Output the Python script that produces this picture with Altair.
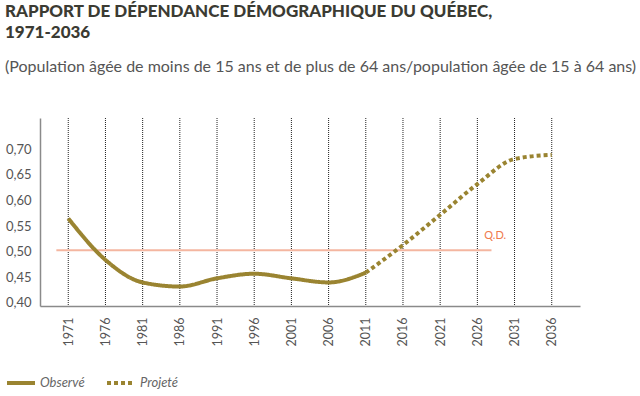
import altair as alt
import pandas as pd

# Rapport de dépendance démographique, observé et projeté
years_obs = [1971, 1976, 1981, 1986, 1991, 1996, 2001, 2006, 2011]
ratio_obs = [0.565, 0.484, 0.440, 0.432, 0.448, 0.457, 0.448, 0.440, 0.459]
years_proj = [2011, 2016, 2021, 2026, 2031, 2036]
ratio_proj = [0.459, 0.513, 0.572, 0.632, 0.681, 0.689]
series_names = ["Observé", "Projeté"]

tick_years = [1971, 1976, 1981, 1986, 1991, 1996, 2001, 2006,
              2011, 2016, 2021, 2026, 2031, 2036]
y_ticks = [0.40, 0.45, 0.50, 0.55, 0.60, 0.65, 0.70]

# Seuil Q.D.
qd_value = 0.503
qd_span = [1969.4, 2027.9]

GOLD = "#9a8431"
GREY = "#555555"
FONT = "Lato"

rows = [{"annee": a, "ratio": r, "serie": series_names[0]} for a, r in zip(years_obs, ratio_obs)]
rows += [{"annee": a, "ratio": r, "serie": series_names[1]} for a, r in zip(years_proj, ratio_proj)]
df = pd.DataFrame(rows)

grid_df = pd.DataFrame({"annee": tick_years, "ratio": [0.761] * len(tick_years)})
qd_df = pd.DataFrame({"annee": [qd_span[0]], "annee2": [qd_span[1]], "ratio": [qd_value]})
qd_label = pd.DataFrame({"annee": [2028.4], "ratio": [0.531], "t": ["Q.D."]})

x_scale = alt.Scale(domain=[1967.2, 2039.8], nice=False, zero=False)
y_scale = alt.Scale(domain=[0.394, 0.761], nice=False, zero=False)

x_axis = alt.Axis(values=tick_years, format="d", labelAngle=270, labelAlign="right",
                  labelBaseline="middle", labelPadding=11, ticks=False, grid=False,
                  domainColor="#8a8a8a", domainWidth=1.5, labelColor=GREY,
                  labelFont=FONT, labelFontSize=12.5, labelOverlap=False, title=None)
y_axis = alt.Axis(values=y_ticks, ticks=False, grid=False, domainColor="#8a8a8a",
                  domainWidth=1.5, labelColor=GREY, labelFont=FONT, labelFontSize=13,
                  labelPadding=9, labelOverlap=False, labelFlush=False,
                  labelExpr="replace(format(datum.value, '.2f'), '.', ',')", title=None)


def X(field="annee"):
    return alt.X(f"{field}:Q", scale=x_scale, axis=x_axis)


def Y(field="ratio"):
    return alt.Y(f"{field}:Q", scale=y_scale, axis=y_axis)


# vertical dotted guides at each tick year, from the top of the plot down to the axis
grid = alt.Chart(grid_df).mark_rule(color="#222222", strokeWidth=1, strokeDash=[1, 1]).encode(
    x=X(),
    y=Y(),
    y2=alt.value(188),
)

qd_rule = alt.Chart(qd_df).mark_rule(color="#f4b6a0", strokeWidth=2).encode(
    x=X(),
    x2="annee2:Q",
    y=Y(),
)

qd_text = alt.Chart(qd_label).mark_text(color="#ef7a4c", font=FONT, fontSize=11).encode(
    x=X(),
    y=Y(),
    text="t:N",
)

lines = alt.Chart(df).mark_line(color=GOLD, strokeWidth=4, interpolate="monotone",
                                strokeCap="butt").encode(
    x=X(),
    y=Y(),
    strokeDash=alt.StrokeDash(
        "serie:N",
        scale=alt.Scale(domain=series_names, range=[[1, 0], [4, 3]]),
        legend=alt.Legend(
            title=None, orient="none", legendX=-35, legendY=249, direction="horizontal",
            symbolType="stroke", symbolSize=784, symbolStrokeWidth=4,
            symbolStrokeColor=GOLD, labelFont=FONT, labelFontStyle="italic",
            labelFontSize=13, labelColor="#666666", labelOffset=3, columnPadding=14,
        ),
    ),
    detail="serie:N",
)

chart = alt.layer(grid, qd_rule, qd_text, lines).properties(
    width=540,
    height=188,
    autosize=alt.AutoSizeParams(type="none"),
    padding={"left": 40, "top": 118, "right": 60, "bottom": 90},
    title=alt.TitleParams(
        text=["RAPPORT DE DÉPENDANCE DÉMOGRAPHIQUE DU QUÉBEC,", "1971-2036"],
        subtitle="(Population âgée de moins de 15 ans et de plus de 64 ans/population âgée de 15 à 64 ans)",
        anchor="start", frame="group", dx=-35, offset=42,
        font=FONT, fontSize=17, fontWeight=900, color="#3b3b33", lineHeight=21,
        subtitleFont=FONT, subtitleFontSize=16, subtitleColor="#555555",
        subtitlePadding=17,
    ),
).configure_view(stroke=None)

chart.save("out.html", embed_options={"renderer": "svg", "actions": False})
